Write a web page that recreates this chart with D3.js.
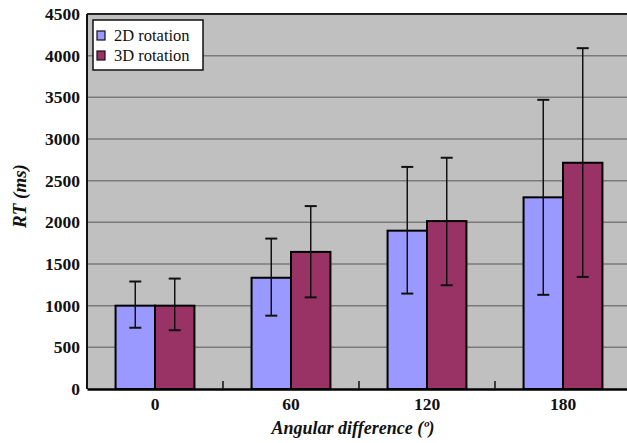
<!DOCTYPE html>
<html><head><meta charset="utf-8">
<script src="https://cdn.jsdelivr.net/npm/d3@7"></script>
<style>body{margin:0;background:#fff}svg{display:block}</style>
</head><body>
<script>
const categories = ["0", "60", "120", "180"];
const seriesNames = ["2D rotation", "3D rotation"];
const mean2D = [1000, 1335, 1900, 2300];
const mean3D = [1000, 1645, 2015, 2715];
const errLow2D = [735, 880, 1145, 1130];
const errHigh2D = [1290, 1805, 2665, 3470];
const errLow3D = [705, 1100, 1245, 1345];
const errHigh3D = [1325, 2195, 2775, 4090];
const yTicks = [0, 500, 1000, 1500, 2000, 2500, 3000, 3500, 4000, 4500];
const colors = ["#9999ff", "#993366"];
const FONT = '"Liberation Serif"';

const W = 627, H = 443;
const m = {left: 87, top: 14, right: -4, bottom: 54};
const svg = d3.select("body").append("svg").attr("width", W).attr("height", H);
const pw = W - m.left - m.right, ph = H - m.top - m.bottom;
const g = svg.append("g").attr("transform", `translate(${m.left},${m.top})`);

const x = d3.scaleBand().domain(categories).range([0, pw]).paddingInner(0).paddingOuter(0);
const xs = d3.scaleBand().domain(seriesNames).range([x.bandwidth()*0.21, x.bandwidth()*0.79]);
const y = d3.scaleLinear().domain([0, 4500]).range([ph, 0]);

g.append("rect").attr("width", pw).attr("height", ph).attr("fill", "#c0c0c0");
g.selectAll(".grid").data(yTicks.filter(d => d > 0)).join("line")
  .attr("x1", 0).attr("x2", pw).attr("y1", d => y(d)).attr("y2", d => y(d))
  .attr("stroke", "#7a7a7a").attr("stroke-width", 1.5);

const data = categories.map((c, i) => [
  {cat: c, s: seriesNames[0], v: mean2D[i], lo: errLow2D[i], hi: errHigh2D[i], col: colors[0]},
  {cat: c, s: seriesNames[1], v: mean3D[i], lo: errLow3D[i], hi: errHigh3D[i], col: colors[1]}
]).flat();

g.selectAll(".bar").data(data).join("rect")
  .attr("x", d => x(d.cat) + xs(d.s)).attr("width", xs.bandwidth())
  .attr("y", d => y(d.v)).attr("height", d => ph - y(d.v))
  .attr("fill", d => d.col).attr("stroke", "#000").attr("stroke-width", 2);

const cx = d => x(d.cat) + xs(d.s) + xs.bandwidth()/2;
const eb = g.selectAll(".err").data(data).join("g").attr("stroke", "#111").attr("stroke-width", 1.5);
eb.append("line").attr("x1", cx).attr("x2", cx).attr("y1", d => y(d.lo)).attr("y2", d => y(d.hi));
eb.append("line").attr("x1", d => cx(d) - 6).attr("x2", d => cx(d) + 6).attr("y1", d => y(d.hi)).attr("y2", d => y(d.hi)).attr("stroke-width", 2);
eb.append("line").attr("x1", d => cx(d) - 6).attr("x2", d => cx(d) + 6).attr("y1", d => y(d.lo)).attr("y2", d => y(d.lo)).attr("stroke-width", 2);

// plot border (top, left)
g.append("line").attr("x1", 0).attr("x2", pw).attr("y1", 0).attr("y2", 0).attr("stroke", "#222").attr("stroke-width", 2);
g.append("line").attr("x1", 0).attr("x2", 0).attr("y1", 0).attr("y2", ph).attr("stroke", "#111").attr("stroke-width", 2);

// x axis
const xAxis = g.append("g").attr("transform", `translate(0,${ph})`)
  .call(d3.axisBottom(x).tickSize(0).tickPadding(9));
xAxis.select(".domain").attr("stroke", "#000").attr("stroke-width", 2.5);
xAxis.selectAll("text").style("font-family", FONT).style("font-weight", "bold").style("font-size", "17.5px").attr("fill", "#111");
g.selectAll(".xtick").data(categories.slice(1)).join("line")
  .attr("x1", d => x(d)).attr("x2", d => x(d)).attr("y1", ph).attr("y2", ph - 8)
  .attr("stroke", "#111").attr("stroke-width", 1.5);

// y axis
const yAxis = g.append("g").call(d3.axisLeft(y).tickValues(yTicks).tickFormat(d3.format("d")).tickSize(0).tickPadding(7));
yAxis.select(".domain").remove();
yAxis.selectAll("text").style("font-family", FONT).style("font-weight", "bold").style("font-size", "17.5px").attr("fill", "#111");

// titles
svg.append("text").attr("transform", `translate(26,196) rotate(-90)`)
  .attr("text-anchor", "middle")
  .style("font-family", FONT).style("font-weight", "bold").style("font-style", "italic").style("font-size", "19px").attr("fill", "#111")
  .text("RT (ms)");
svg.append("text").attr("x", 353).attr("y", 434)
  .attr("text-anchor", "middle")
  .style("font-family", FONT).style("font-weight", "bold").style("font-style", "italic").style("font-size", "18px").attr("fill", "#111")
  .text("Angular difference (º)");

// legend
const lg = svg.append("g").attr("transform", "translate(93,20)");
lg.append("rect").attr("width", 110).attr("height", 50).attr("fill", "#fff").attr("stroke", "#111").attr("stroke-width", 1.5);
const li = lg.selectAll(".li").data(seriesNames).join("g").attr("transform", (d, i) => `translate(0,${16 + i*20})`);
li.append("rect").attr("x", 4).attr("y", -5).attr("width", 8).attr("height", 9)
  .attr("fill", (d, i) => colors[i]).attr("stroke", "#111").attr("stroke-width", 1.2);
li.append("text").attr("x", 21).attr("y", 5)
  .style("font-family", FONT).style("font-size", "16.5px").attr("fill", "#111").text(d => d);
</script>
</body></html>
